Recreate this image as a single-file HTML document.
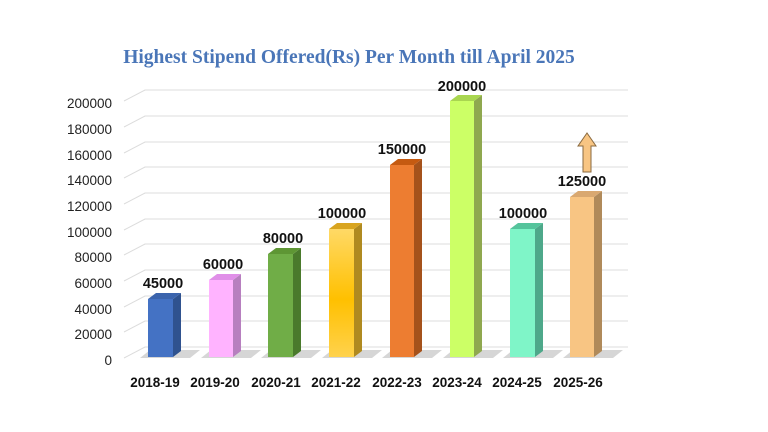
<!DOCTYPE html>
<html><head><meta charset="utf-8"><style>body{margin:0;background:#fff}svg{display:block}</style></head><body>
<svg width="768" height="432" xmlns="http://www.w3.org/2000/svg" font-family="Liberation Sans, sans-serif">
<defs>
<linearGradient id="gy" x1="0" y1="0" x2="0" y2="1"><stop offset="0" stop-color="#ffd966"/><stop offset="0.55" stop-color="#ffc000"/><stop offset="1" stop-color="#ffd24d"/></linearGradient>
</defs>
<text x="349" y="63" text-anchor="middle" font-family="Liberation Serif, serif" font-weight="bold" font-size="19.5" fill="#4a76b8">Highest Stipend Offered(Rs) Per Month till April 2025</text>
<g stroke="#dcdcdc" stroke-width="1" fill="none">
<path d="M124 358 L145 347 L628 347"/>
<path d="M124 332 L145 321 L628 321"/>
<path d="M124 307 L145 296 L628 296"/>
<path d="M124 281 L145 270 L628 270"/>
<path d="M124 255 L145 244 L628 244"/>
<path d="M124 230 L145 219 L628 219"/>
<path d="M124 204 L145 193 L628 193"/>
<path d="M124 178 L145 167 L628 167"/>
<path d="M124 153 L145 142 L628 142"/>
<path d="M124 127 L145 116 L628 116"/>
<path d="M124 101 L145 90 L628 90"/>
</g>
<g font-size="13.5" fill="#222" text-anchor="end">
<text x="112" y="365">0</text><text x="112" y="339">20000</text><text x="112" y="314">40000</text><text x="112" y="288">60000</text><text x="112" y="262">80000</text><text x="112" y="237">100000</text><text x="112" y="211">120000</text><text x="112" y="185">140000</text><text x="112" y="160">160000</text><text x="112" y="134">180000</text><text x="112" y="108">200000</text>
</g>
<g fill="#bbb" opacity="0.6">
<polygon points="140,358 190,358 200,350 150,350"/><polygon points="201,358 251,358 261,350 211,350"/><polygon points="261,358 311,358 321,350 271,350"/><polygon points="322,358 372,358 382,350 332,350"/><polygon points="382,358 432,358 442,350 392,350"/><polygon points="443,358 493,358 503,350 453,350"/><polygon points="503,358 553,358 563,350 513,350"/><polygon points="563,358 613,358 623,350 573,350"/>
</g>
<g>
<polygon points="173,299 181,293 181,351 173,357" fill="#2f528f"/><polygon points="148,299 156,293 181,293 173,299" fill="#3b64ad"/><rect x="148" y="299" width="25" height="58" fill="#4472c4"/>
<polygon points="233,280 241,274 241,351 233,357" fill="#b77fbf"/><polygon points="209,280 217,274 241,274 233,280" fill="#e08fe8"/><rect x="209" y="280" width="24" height="77" fill="#ffb3ff"/>
<polygon points="293,254 301,248 301,351 293,357" fill="#4a7a2c"/><polygon points="268,254 276,248 301,248 293,254" fill="#5e9634"/><rect x="268" y="254" width="25" height="103" fill="#70ad47"/>
<polygon points="354,229 362,223 362,351 354,357" fill="#b08a20"/><polygon points="329,229 337,223 362,223 354,229" fill="#d9a520"/><rect x="329" y="229" width="25" height="128" fill="url(#gy)"/>
<polygon points="414,165 422,159 422,351 414,357" fill="#a5521b"/><polygon points="390,165 398,159 422,159 414,165" fill="#c55a11"/><rect x="390" y="165" width="24" height="192" fill="#ed7d31"/>
<polygon points="474,101 482,95 482,351 474,357" fill="#8fa84f"/><polygon points="450,101 458,95 482,95 474,101" fill="#a9d650"/><rect x="450" y="101" width="24" height="256" fill="#ccff66"/>
<polygon points="535,229 543,223 543,351 535,357" fill="#4ea88a"/><polygon points="510,229 518,223 543,223 535,229" fill="#55c49c"/><rect x="510" y="229" width="25" height="128" fill="#7ff5c8"/>
<polygon points="594,197 602,191 602,351 594,357" fill="#b08a5a"/><polygon points="570,197 578,191 602,191 594,197" fill="#d9a870"/><rect x="570" y="197" width="24" height="160" fill="#f8c583"/>
</g>
<g font-size="14.5" font-weight="bold" fill="#111" text-anchor="middle">
<text x="163" y="288">45000</text><text x="223" y="269">60000</text><text x="283" y="243">80000</text><text x="342" y="218">100000</text><text x="402" y="154">150000</text><text x="462" y="91">200000</text><text x="523" y="218">100000</text><text x="582" y="186">125000</text>
</g>
<polygon points="583,172 583,146 578,146 587,133 596,146 591,146 591,172" fill="#f8c583" stroke="#8a6a40" stroke-width="1"/>
<g font-size="13.5" font-weight="bold" fill="#111" text-anchor="middle">
<text x="155" y="387">2018-19</text><text x="215" y="387">2019-20</text><text x="276" y="387">2020-21</text><text x="336" y="387">2021-22</text><text x="397" y="387">2022-23</text><text x="457" y="387">2023-24</text><text x="517" y="387">2024-25</text><text x="578" y="387">2025-26</text>
</g>
</svg>
</body></html>
